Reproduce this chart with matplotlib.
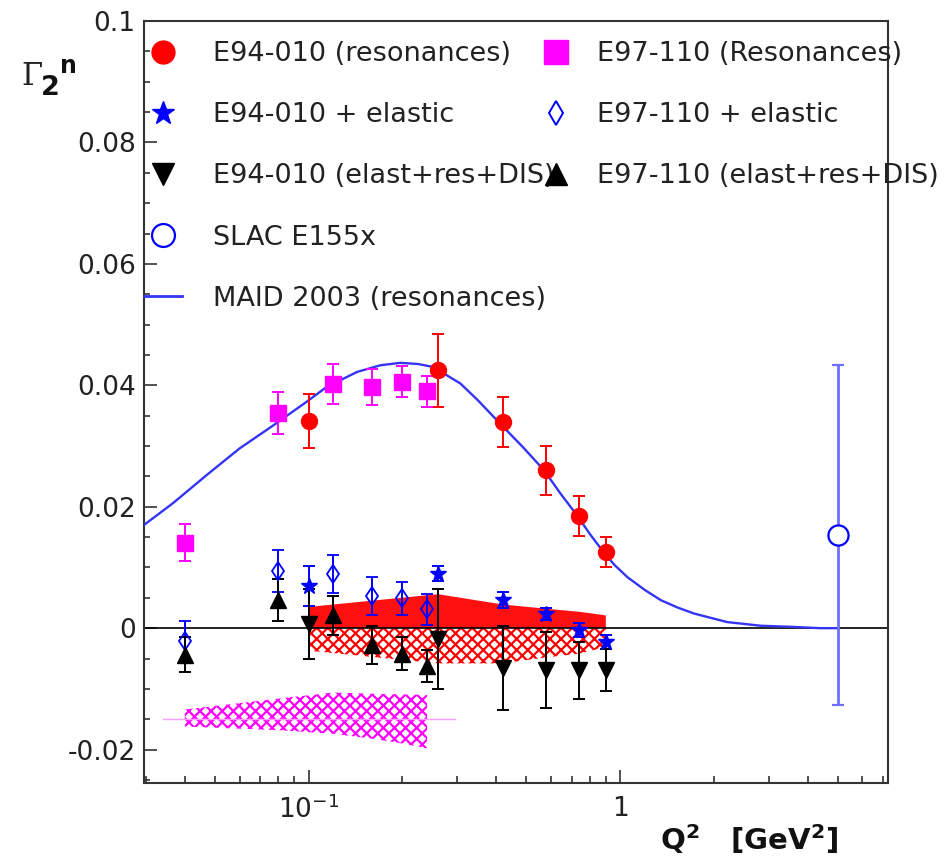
import matplotlib
matplotlib.use('Agg')
import matplotlib.pyplot as plt
from matplotlib.lines import Line2D
from matplotlib.ticker import FixedLocator, FixedFormatter, MultipleLocator, LogLocator, NullFormatter

plt.rcParams['font.family'] = ['DejaVu Sans']
plt.rcParams['hatch.linewidth'] = 1.6

# ---------------- data ----------------
q2_e94 = [0.10, 0.26, 0.42, 0.58, 0.74, 0.90]
g2_e94_res = [0.0341, 0.0425, 0.0339, 0.0260, 0.0184, 0.0125]
err_e94_res = [0.0045, 0.0060, 0.0041, 0.0040, 0.0033, 0.0025]
g2_e94_el = [0.0070, 0.0090, 0.0046, 0.0024, -0.0003, -0.0023]
err_e94_el = [0.0033, 0.0013, 0.0013, 0.0010, 0.0011, 0.0012]
g2_e94_tot = [0.0007, -0.0018, -0.0065, -0.0069, -0.0069, -0.0069]
err_e94_tot = [0.0058, 0.0082, 0.0069, 0.0062, 0.0047, 0.0035]

q2_e97 = [0.04, 0.08, 0.12, 0.16, 0.20, 0.24]
g2_e97_res = [0.0141, 0.0354, 0.0402, 0.0397, 0.0406, 0.0390]
err_e97_res = [0.0031, 0.0035, 0.0033, 0.0030, 0.0025, 0.0025]
g2_e97_el = [-0.0021, 0.0094, 0.0089, 0.0053, 0.0049, 0.0031]
err_e97_el = [0.0032, 0.0034, 0.0031, 0.0031, 0.0027, 0.0026]
g2_e97_tot = [-0.0044, 0.0046, 0.0021, -0.0028, -0.0042, -0.0062]
err_e97_tot = [0.0029, 0.0035, 0.0032, 0.0031, 0.0027, 0.0026]

q2_slac = [5.0]
g2_slac = [0.0153]
err_slac = [0.0280]

# systematic bands
sys_e94_hi = [0.0035, 0.0056, 0.0039, 0.0032, 0.0027, 0.0021]
sys_e94_lo = [-0.0037, -0.0058, -0.0058, -0.0048, -0.0042, -0.0031]
sys_e97_hi = [-0.0134, -0.0116, -0.0106, -0.0108, -0.0109, -0.0110]
sys_e97_lo = [-0.0162, -0.0168, -0.0174, -0.0182, -0.0190, -0.0198]
sys_e97_base_q2 = [0.034, 0.296]
sys_e97_base = [-0.015, -0.015]

# MAID 2003 curve
q2_maid = [0.0296, 0.0367, 0.047, 0.060, 0.077, 0.0986, 0.114, 0.143, 0.170, 0.197,
           0.225, 0.252, 0.285, 0.307, 0.35, 0.41, 0.49, 0.57, 0.643, 0.727, 0.80,
           0.883, 0.96, 1.056, 1.2, 1.353, 1.53, 1.73, 2.21, 2.83, 3.62, 4.39, 5.0]
g2_maid = [0.0170, 0.0206, 0.0252, 0.0296, 0.0334, 0.0373, 0.0397, 0.0422, 0.0433, 0.0437,
           0.0435, 0.0430, 0.0413, 0.0403, 0.0375, 0.0338, 0.0297, 0.0260, 0.0222, 0.0186,
           0.0155, 0.0126, 0.0104, 0.0084, 0.0063, 0.0046, 0.0034, 0.0024, 0.0010, 0.0004,
           0.0002, 0.0, 0.0]

ytick_vals = [-0.02, 0.0, 0.02, 0.04, 0.06, 0.08, 0.1]
ytick_labels = ['-0.02', '0', '0.02', '0.04', '0.06', '0.08', '0.1']
xtick_vals = [0.1, 1.0]
xtick_labels = [r'$10^{-1}$', '1']

labels_col1 = ['E94-010 (resonances)', 'E94-010 + elastic', 'E94-010 (elast+res+DIS)',
               'SLAC E155x', 'MAID 2003 (resonances)']
labels_col2 = ['E97-110 (Resonances)', 'E97-110 + elastic', 'E97-110 (elast+res+DIS)']

# ---------------- figure ----------------
W, H = 948, 860
fig = plt.figure(figsize=(W / 100, H / 100), dpi=100)
ax = fig.add_axes([144 / W, 1 - 783 / H, (888 - 144) / W, (783 - 21) / H])
ax.set_xscale('log')
ax.set_xlim(0.0296, 7.25)
ax.set_ylim(-0.0255, 0.1)

RED = '#ff0000'
MAG = '#ff00ff'
BLUE = '#0000ff'
LBLUE = '#6f6fff'
CURVE = '#3434f4'

# bands
ax.fill_between(q2_e94, 0, sys_e94_hi, facecolor='#ff1010', edgecolor='none', lw=0, zorder=1)
ax.fill_between(q2_e94, sys_e94_lo, 0, facecolor='white', edgecolor=RED, hatch='xxx', lw=0, zorder=1)
ax.fill_between(q2_e97, sys_e97_lo, sys_e97_hi, facecolor='white', edgecolor=MAG, hatch='xxx', lw=0, zorder=1)
ax.plot(sys_e97_base_q2, sys_e97_base, color='#ff9cff', lw=1.0, zorder=1.5)

ax.axhline(0, color='black', lw=1.2, zorder=2)
ax.plot(q2_maid, g2_maid, color=CURVE, lw=1.7, zorder=3)

eb = dict(capsize=4.3, elinewidth=1.4, capthick=1.4, zorder=4, ls='none')
ax.errorbar(q2_e94, g2_e94_res, yerr=err_e94_res, fmt='o', color=RED, ms=11.5, **eb)
ax.errorbar(q2_e97, g2_e97_res, yerr=err_e97_res, fmt='s', color=MAG, ms=12, **eb)
ax.errorbar(q2_e94, g2_e94_el, yerr=err_e94_el, fmt='*', color=BLUE, ms=12, **eb)
ax.errorbar(q2_e97, g2_e97_el, yerr=err_e97_el, fmt='d', color=BLUE, mfc='none', mew=1.3, ms=9.5, **eb)
ax.errorbar(q2_e94, g2_e94_tot, yerr=err_e94_tot, fmt='v', color='black', ms=11.5, **eb)
ax.errorbar(q2_e97, g2_e97_tot, yerr=err_e97_tot, fmt='^', color='black', ms=11.5, **eb)
ax.errorbar(q2_slac, g2_slac, yerr=err_slac, fmt='o', color=LBLUE, mec=BLUE, mfc='white',
            mew=1.6, ms=14.5, capsize=4.3, elinewidth=2, capthick=2, zorder=4, ls='none')

# axes styling
for s in ax.spines.values():
    s.set_linewidth(1.5)
    s.set_color('#333333')
ax.yaxis.set_major_locator(FixedLocator(ytick_vals))
ax.yaxis.set_major_formatter(FixedFormatter(ytick_labels))
ax.yaxis.set_minor_locator(MultipleLocator(0.005))
ax.xaxis.set_major_locator(FixedLocator(xtick_vals))
ax.xaxis.set_major_formatter(FixedFormatter(xtick_labels))
ax.xaxis.set_minor_locator(LogLocator(base=10, subs=[2, 3, 4, 5, 6, 7, 8, 9], numticks=20))
ax.xaxis.set_minor_formatter(NullFormatter())
ax.tick_params(which='both', direction='in', top=False, right=False, color='#333333', width=1.2)
ax.tick_params(axis='y', which='major', length=9, pad=6, labelsize=19, labelcolor='#222222')
ax.tick_params(axis='y', which='minor', length=4.5)
ax.tick_params(axis='x', which='major', length=9.5, pad=9, labelsize=19, labelcolor='#222222')
ax.tick_params(axis='x', which='minor', length=5)

# legend
h1 = [Line2D([], [], ls='none', marker='o', color=RED, ms=16.5),
      Line2D([], [], ls='none', marker='*', color=BLUE, ms=17),
      Line2D([], [], ls='none', marker='v', color='black', ms=16),
      Line2D([], [], ls='none', marker='o', mfc='white', mec=BLUE, mew=1.6, ms=16.5),
      Line2D([], [], color=CURVE, lw=2)]
h2 = [Line2D([], [], ls='none', marker='s', color=MAG, ms=17),
      Line2D([], [], ls='none', marker='d', mfc='white', mec=BLUE, mew=1.4, ms=12),
      Line2D([], [], ls='none', marker='^', color='black', ms=16)]
common = dict(loc='upper left', bbox_transform=fig.transFigure, frameon=False, fontsize=19.5,
              handlelength=1.4, labelspacing=1.30, borderpad=0, borderaxespad=0,
              labelcolor='#222222')
leg1 = ax.legend(h1, labels_col1, bbox_to_anchor=(144 / W, 1 - 41 / H), handletextpad=1.14, **common)
ax.add_artist(leg1)
leg2 = ax.legend(h2, labels_col2, bbox_to_anchor=(537 / W, 1 - 41 / H), handletextpad=0.8, **common)

# axis labels
fig.text(21 / W, 1 - 85 / H, '\u0393', family='DejaVu Serif', fontsize=22, va='baseline', color='#222222')
fig.text(41 / W, 1 - 95 / H, '2', fontsize=19.5, weight='bold', va='baseline', color='#111111')
fig.text(60 / W, 1 - 73 / H, 'n', fontsize=17, weight='bold', va='baseline', color='#111111')
fig.text(660 / W, 1 - 850 / H, r'Q$^{\mathbf{2}}$   [GeV$^{\mathbf{2}}$]', fontsize=21,
         weight='bold', va='baseline', color='#111111')

fig.savefig('out.png', dpi=100)
